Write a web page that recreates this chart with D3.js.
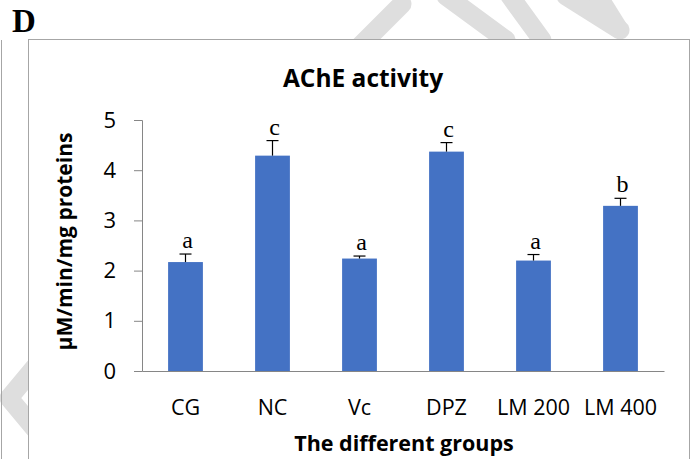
<!DOCTYPE html>
<html>
<head>
<meta charset="utf-8">
<script src="https://cdn.jsdelivr.net/npm/d3@7/dist/d3.min.js"></script>
<style>
  body { margin: 0; background: #fff; }
  svg { display: block; }
  .sans { font-family: "Open Sans", Lato, sans-serif; }
  .serif { font-family: "Liberation Serif", "DejaVu Serif", serif; }
</style>
</head>
<body>
<div id="canvas-wrapper"></div>
<script>
// values
var groups = ["CG", "NC", "Vc", "DPZ", "LM 200", "LM 400"];
var means = [2.17, 4.29, 2.24, 4.37, 2.20, 3.29];
var errors = [0.16, 0.30, 0.05, 0.18, 0.12, 0.15];
var letters = ["a", "c", "a", "c", "a", "b"];
var yTicks = [0, 1, 2, 3, 4, 5];

var data = groups.map(function(g, i) {
  return {group: g, mean: means[i], err: errors[i], letter: letters[i]};
});

var W = 696, H = 459;
var margin = {top: 120, right: 32, bottom: 88, left: 142},
    width = W - margin.left - margin.right,
    height = H - margin.top - margin.bottom;

var svg = d3.select("#canvas-wrapper").append("svg")
    .attr("width", W)
    .attr("height", H);

// faint watermark strokes behind the chart frame
var wm = svg.append("g")
    .attr("fill", "none")
    .attr("stroke", "#dedede")
    .attr("stroke-width", 19)
    .attr("stroke-linecap", "round")
    .attr("stroke-linejoin", "round");
[
  [[360, 46], [402, 4]],
  [[446, -4], [506, 40]],
  [[510, -4], [542, 40]],
  [[566, -4], [620, 30]],
  [[598, -4], [618, 28]],
  [[44, 356], [9, 398], [44, 440]]
].forEach(function(pts) {
  wm.append("path").attr("d", d3.line()(pts));
});

// outer left rule of the page
svg.append("line")
    .attr("x1", 1.5).attr("x2", 1.5)
    .attr("y1", 40).attr("y2", H)
    .attr("stroke", "#a6a6a6");

// chart frame
svg.append("rect")
    .attr("x", 28.5).attr("y", 39.5)
    .attr("width", 661).attr("height", H)
    .attr("fill", "#fff")
    .attr("stroke", "#a6a6a6");

// panel letter
svg.append("text")
    .attr("class", "serif")
    .attr("x", 12).attr("y", 32)
    .attr("font-size", 33)
    .attr("font-weight", "bold")
    .text("D");

var g = svg.append("g")
    .attr("transform", "translate(" + margin.left + "," + margin.top + ")");

var x = d3.scaleBand()
    .domain(groups)
    .range([0, width])
    .paddingInner(0.6)
    .paddingOuter(0.3);

var y = d3.scaleLinear()
    .domain([0, 5])
    .range([height, 0]);

// title
svg.append("text")
    .attr("class", "sans")
    .attr("x", 363).attr("y", 87)
    .attr("text-anchor", "middle")
    .attr("font-size", 24.5)
    .attr("font-weight", "bold")
    .text("AChE activity");

// bars
g.selectAll(".bar")
    .data(data)
  .enter().append("rect")
    .attr("class", "bar")
    .attr("x", function(d) { return x(d.group); })
    .attr("width", x.bandwidth())
    .attr("y", function(d) { return y(d.mean); })
    .attr("height", function(d) { return height - y(d.mean); })
    .attr("fill", "#4472c4");

// error bars (upper half only)
var eb = g.selectAll(".err")
    .data(data)
  .enter().append("g")
    .attr("class", "err")
    .attr("stroke", "#000")
    .attr("stroke-width", 1.2);
eb.append("line")
    .attr("x1", function(d) { return x(d.group) + x.bandwidth() / 2; })
    .attr("x2", function(d) { return x(d.group) + x.bandwidth() / 2; })
    .attr("y1", function(d) { return y(d.mean); })
    .attr("y2", function(d) { return y(d.mean + d.err); });
eb.append("line")
    .attr("x1", function(d) { return x(d.group) + x.bandwidth() / 2 - 6; })
    .attr("x2", function(d) { return x(d.group) + x.bandwidth() / 2 + 6; })
    .attr("y1", function(d) { return y(d.mean + d.err); })
    .attr("y2", function(d) { return y(d.mean + d.err); });

// significance letters
g.selectAll(".sig")
    .data(data)
  .enter().append("text")
    .attr("class", "serif sig")
    .attr("x", function(d) { return x(d.group) + x.bandwidth() / 2 + 2; })
    .attr("y", function(d) { return y(d.mean + d.err) - 6; })
    .attr("text-anchor", "middle")
    .attr("font-size", 24)
    .text(function(d) { return d.letter; });

// y axis
var yAxis = g.append("g")
    .call(d3.axisLeft(y).tickValues(yTicks).tickSize(8).tickPadding(18).tickFormat(d3.format("d")));
yAxis.select(".domain").attr("stroke", "#868686");
yAxis.selectAll(".tick line").attr("stroke", "#868686");
yAxis.selectAll(".tick text")
    .attr("class", "sans")
    .attr("font-size", 22)
    .attr("fill", "#000");

// x axis
var xAxis = g.append("g")
    .attr("transform", "translate(0," + height + ")")
    .call(d3.axisBottom(x).tickSize(0).tickPadding(29).tickSizeOuter(0));
xAxis.select(".domain").attr("stroke", "#868686");
xAxis.selectAll(".tick text")
    .attr("class", "sans")
    .attr("font-size", 21.5)
    .attr("fill", "#000");

// axis titles
svg.append("text")
    .attr("class", "sans")
    .attr("x", 404).attr("y", 451)
    .attr("text-anchor", "middle")
    .attr("font-size", 21.5)
    .attr("font-weight", "bold")
    .text("The different groups");

svg.append("text")
    .attr("class", "sans")
    .attr("transform", "translate(72," + (margin.top + height / 2 - 4) + ") rotate(-90)")
    .attr("text-anchor", "middle")
    .attr("font-size", 21)
    .attr("font-weight", "bold")
    .text("µM/min/mg proteins");
</script>
</body>
</html>
